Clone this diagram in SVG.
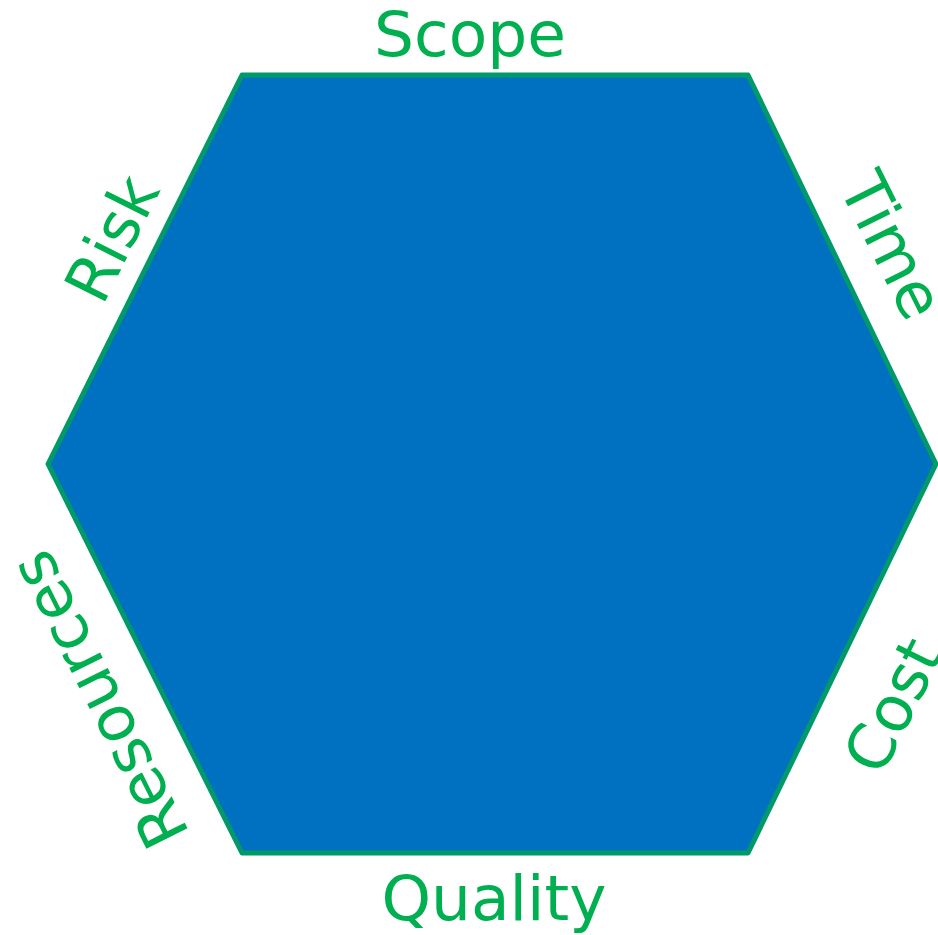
<svg xmlns="http://www.w3.org/2000/svg" width="938" height="935" viewBox="0 0 938 935">
<style>
.lbl{font-family:"DejaVu Sans","Verdana",sans-serif;font-size:63px;fill:#00b050;text-anchor:middle}
</style>
<rect width="938" height="935" fill="#ffffff"/>
<g id="hexagon">
<polygon points="242,75 748,75 936,464 748,853 242,853 48,464" fill="#0070c0" stroke="#00996a" stroke-width="5" stroke-linejoin="round"/>
</g>
<g id="labels">
<text id="scope" class="lbl" x="470" y="56">Scope</text>
<text id="quality" class="lbl" x="494" y="920">Quality</text>
<text id="risk" class="lbl" transform="translate(111,238) rotate(-63.5)" x="0" y="23">Risk</text>
<text id="time" class="lbl" transform="translate(893,245) rotate(63.5)" x="0" y="23">Time</text>
<text id="resources" class="lbl" transform="translate(98,700) rotate(-116.5)" x="0" y="23">Resources</text>
<text id="cost" class="lbl" transform="translate(892,705) rotate(-63.5)" x="0" y="23">Cost</text>
</g>
</svg>
